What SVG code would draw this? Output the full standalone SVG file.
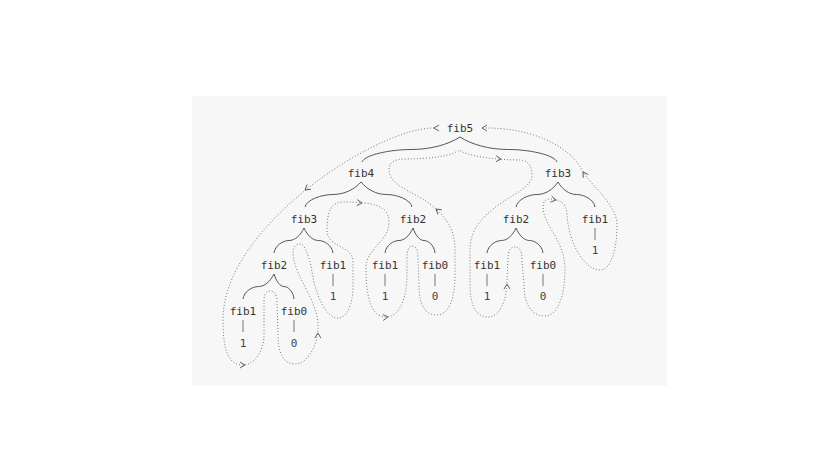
<svg xmlns="http://www.w3.org/2000/svg" width="832" height="476" viewBox="0 0 832 476">
<style>
.lbl{font-family:"DejaVu Sans Mono","Liberation Mono",monospace;font-size:11px;fill:#333;text-anchor:middle}
.val{font-family:"DejaVu Sans Mono","Liberation Mono",monospace;font-size:11px;fill:#444;text-anchor:middle}
.brace{fill:none;stroke:#555;stroke-width:1}
.stem{fill:none;stroke:#777;stroke-width:1}
.trace{fill:none;stroke:#777;stroke-width:1;stroke-dasharray:1 2}
.chev{fill:none;stroke:#555;stroke-width:0.9}
</style>
<defs>
<path id="chev" class="chev" d="M -5,-3 L 0,0 L -5,3"/>
</defs>
<rect x="192" y="96" width="475" height="290" fill="#f7f7f7"/>
<g id="connectors">
<path class="brace" d="M460,137 C448.2,144.5 430.6,149.5 411,149.5 C391.4,149.5 364.9,154.5 362,162"/>
<path class="brace" d="M460,137 C471.6,144.5 489.1,149.5 508.5,149.5 C527.9,149.5 554.1,154.5 557,162"/>
<path class="brace" d="M361,182 C354.3,189.5 344.2,194.5 333,194.5 C321.8,194.5 306.7,199.5 305,207"/>
<path class="brace" d="M361,182 C367.1,189.5 376.3,194.5 386.5,194.5 C396.7,194.5 410.5,199.5 412,207"/>
<path class="brace" d="M558,182 C553,189.5 545.4,194.5 537,194.5 C528.6,194.5 517.3,199.5 516,207"/>
<path class="brace" d="M558,182 C562.4,189.5 569.1,194.5 576.5,194.5 C583.9,194.5 593.9,199.5 595,207"/>
<path class="brace" d="M304,228 C300.4,235.5 295,240.5 289,240.5 C283,240.5 274.9,245.5 274,253"/>
<path class="brace" d="M304,228 C307.5,235.5 312.7,240.5 318.5,240.5 C324.3,240.5 332.1,245.5 333,253"/>
<path class="brace" d="M413,228 C409.6,235.5 404.6,240.5 399,240.5 C393.4,240.5 385.8,245.5 385,253"/>
<path class="brace" d="M413,228 C415.6,235.5 419.6,240.5 424,240.5 C428.4,240.5 434.3,245.5 435,253"/>
<path class="brace" d="M516,228 C512.5,235.5 507.3,240.5 501.5,240.5 C495.7,240.5 487.9,245.5 487,253"/>
<path class="brace" d="M516,228 C519.2,235.5 524.1,240.5 529.5,240.5 C534.9,240.5 542.2,245.5 543,253"/>
<path class="brace" d="M274,274 C270.3,281.5 264.7,286.5 258.5,286.5 C252.3,286.5 243.9,291.5 243,299"/>
<path class="brace" d="M274,274 C276.4,281.5 280,286.5 284,286.5 C288,286.5 293.4,291.5 294,299"/>
<line class="stem" x1="595" y1="228" x2="595" y2="240"/>
<line class="stem" x1="333" y1="274" x2="333" y2="286"/>
<line class="stem" x1="385" y1="274" x2="385" y2="286"/>
<line class="stem" x1="435" y1="274" x2="435" y2="286"/>
<line class="stem" x1="487" y1="274" x2="487" y2="286"/>
<line class="stem" x1="543" y1="274" x2="543" y2="286"/>
<line class="stem" x1="243" y1="320" x2="243" y2="332"/>
<line class="stem" x1="294" y1="320" x2="294" y2="332"/>
<path class="trace" d="M434,128 C380,127 223,225 223,320 C223,350 228,365 243,365 C255,365 264,350 264,335 L264,300 C264,294 266,291 270,291 C274,291 277,294 277,302 L278,335 C278,352 283,364 295,364 C308,364 318,345 318,326 C318,300 293,275 293,252 C293,247 296,244 300,244 C305,244 310,258 312,272 C315,292 325,318 338,318 C347,318 353,305 353,285 L353,262 C353,245 327,248 327,230 C327,210 332,202 343,202 C372,202 389,205 389,222 C389,242 366,248 366,268 C366,300 372,317 386,317 C400,317 407,297 407,275 L407,258 C407,250 409,246 412,246 C416,246 418,250 418,258 L419,285 C419,305 425,315 437,315 C449,315 455,298 455,275 L455,250 C455,228 445,216 430,204 C418,194 389,186 389,170 C389,162 395,159 405,159 C430,159 452,156 459,150 C467,156 495,160 520,160 C528,160 532,166 532,176 C532,195 470,205 470,250 L470,285 C470,305 476,317 488,317 C500,317 507,300 507,280 L508,258 C508,250 511,247 515,247 C519,247 522,250 522,260 L524,285 C524,305 532,316 545,316 C558,316 565,295 565,270 C565,240 543,225 543,207 C543,202 545,199 550,199 C560,199 567,204 567,215 C569,245 585,270 600,270 C611,270 617,250 617,225 C617,205 592,186 583,172 C570,145 530,127 482,128"/>
<use href="#chev" transform="translate(434,128) rotate(180)"/>
<use href="#chev" transform="translate(305,190) rotate(142)"/>
<use href="#chev" transform="translate(245,365)"/>
<use href="#chev" transform="translate(318,333) rotate(-88)"/>
<use href="#chev" transform="translate(362,203) rotate(5)"/>
<use href="#chev" transform="translate(388,317) rotate(-5)"/>
<use href="#chev" transform="translate(436,209) rotate(-141)"/>
<use href="#chev" transform="translate(501,159) rotate(3)"/>
<use href="#chev" transform="translate(507,284) rotate(-90)"/>
<use href="#chev" transform="translate(556,200) rotate(10)"/>
<use href="#chev" transform="translate(583,172) rotate(-123)"/>
<use href="#chev" transform="translate(482,128) rotate(180)"/>
</g>
<g id="n-fib5"><text class="lbl" x="460" y="132">fib5</text></g>
<g id="n-fib4"><text class="lbl" x="361" y="177">fib4</text></g>
<g id="n-fib3r"><text class="lbl" x="558" y="177">fib3</text></g>
<g id="n-fib3l"><text class="lbl" x="304" y="223">fib3</text></g>
<g id="n-fib2m"><text class="lbl" x="413" y="223">fib2</text></g>
<g id="n-fib2r"><text class="lbl" x="516" y="223">fib2</text></g>
<g id="n-fib1r"><text class="lbl" x="595" y="223">fib1</text></g>
<g id="v-fib1r"><text class="val" x="595" y="254">1</text></g>
<g id="n-fib2l"><text class="lbl" x="274" y="269">fib2</text></g>
<g id="n-fib1a"><text class="lbl" x="333" y="269">fib1</text></g>
<g id="v-fib1a"><text class="val" x="333" y="300">1</text></g>
<g id="n-fib1b"><text class="lbl" x="385" y="269">fib1</text></g>
<g id="v-fib1b"><text class="val" x="385" y="300">1</text></g>
<g id="n-fib0b"><text class="lbl" x="435" y="269">fib0</text></g>
<g id="v-fib0b"><text class="val" x="435" y="300">0</text></g>
<g id="n-fib1c"><text class="lbl" x="487" y="269">fib1</text></g>
<g id="v-fib1c"><text class="val" x="487" y="300">1</text></g>
<g id="n-fib0c"><text class="lbl" x="543" y="269">fib0</text></g>
<g id="v-fib0c"><text class="val" x="543" y="300">0</text></g>
<g id="n-fib1d"><text class="lbl" x="243" y="315">fib1</text></g>
<g id="v-fib1d"><text class="val" x="243" y="347">1</text></g>
<g id="n-fib0d"><text class="lbl" x="294" y="315">fib0</text></g>
<g id="v-fib0d"><text class="val" x="294" y="347">0</text></g>
</svg>
